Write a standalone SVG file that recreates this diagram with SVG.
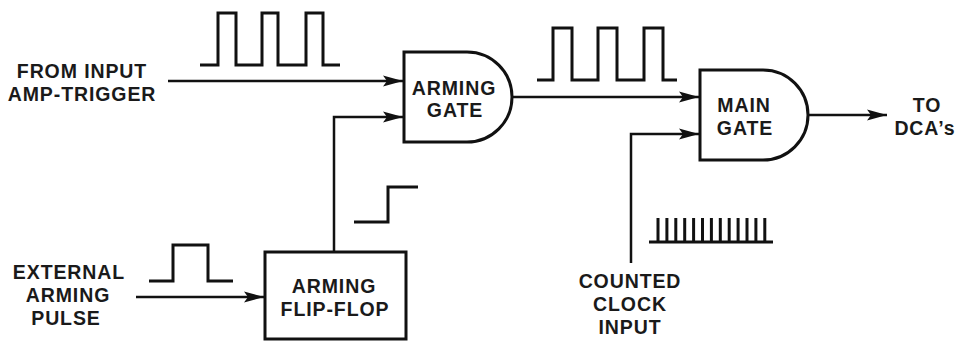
<svg xmlns="http://www.w3.org/2000/svg" width="958" height="342" viewBox="0 0 958 342">
<style>
.t{font-family:"Liberation Sans",Arial,sans-serif;font-weight:bold;font-size:19.5px;letter-spacing:0.9px;fill:#1a1a1a;text-anchor:middle}
.shape{fill:#fff;stroke:#111;stroke-width:3}
.wire{fill:none;stroke:#111;stroke-width:2.5}
.wave{fill:none;stroke:#111;stroke-width:3;stroke-linejoin:miter}
</style>
<defs>
<marker id="arr" viewBox="0 0 20 12" refX="20" refY="6" markerWidth="20" markerHeight="12" markerUnits="userSpaceOnUse" orient="auto">
<path d="M0,0.5 L20,6 L0,11.5 L4,6 Z" fill="#111"/>
</marker>
</defs>
<rect width="958" height="342" fill="#fff"/>
<g id="connectors">
<path class="wire" d="M168,81 H403" marker-end="url(#arr)"/>
<path class="wire" d="M334,251 V117 H403" marker-end="url(#arr)"/>
<path class="wire" d="M512,97 H699" marker-end="url(#arr)"/>
<path class="wire" d="M631,263 V134 H699" marker-end="url(#arr)"/>
<path class="wire" d="M808,115 H887" marker-end="url(#arr)"/>
<path class="wire" d="M136,297 H264" marker-end="url(#arr)"/>
</g>
<g id="waveforms">
<path class="wave" d="M200,65 H218 V13 H236 V65 H262 V13 H278 V65 H306 V13 H323 V65 H340"/>
<path class="wave" d="M537,80 H553 V28 H572 V80 H598 V28 H617 V80 H644 V28 H663 V80 H677"/>
<path class="wave" d="M354,222 H388 V187 H418"/>
<path class="wave" d="M149,281 H173 V245 H208 V281 H233"/>
<path class="wave" d="M649,242 H773 M658,242 V218 M666.9,242 V218 M675.8,242 V218 M684.7,242 V218 M693.6,242 V218 M702.5,242 V218 M711.4,242 V218 M720.3,242 V218 M729.2,242 V218 M738.1,242 V218 M747,242 V218 M755.9,242 V218 M764.8,242 V218"/>
</g>
<g id="input-label">
<text class="t" x="82" y="78">FROM INPUT</text>
<text class="t" x="82" y="101">AMP-TRIGGER</text>
</g>
<g id="arming-gate">
<path class="shape" d="M404,52 H467 A45,45 0 0 1 467,142 H404 Z"/>
<text class="t" x="454" y="95">ARMING</text>
<text class="t" x="455" y="117">GATE</text>
</g>
<g id="main-gate">
<path class="shape" d="M700,70 H763 A45,45 0 0 1 763,160 H700 Z"/>
<text class="t" x="744" y="112">MAIN</text>
<text class="t" x="745" y="135">GATE</text>
</g>
<g id="output-label">
<text class="t" x="927" y="112">TO</text>
<text class="t" x="925" y="135">DCA’s</text>
</g>
<g id="arming-flip-flop">
<rect class="shape" x="265" y="252" width="141" height="87"/>
<text class="t" x="334" y="293">ARMING</text>
<text class="t" x="335" y="316">FLIP-FLOP</text>
</g>
<g id="external-label">
<text class="t" x="69" y="279">EXTERNAL</text>
<text class="t" x="68" y="302">ARMING</text>
<text class="t" x="66" y="325">PULSE</text>
</g>
<g id="clock-label">
<text class="t" x="630" y="288">COUNTED</text>
<text class="t" x="630" y="311">CLOCK</text>
<text class="t" x="630" y="334">INPUT</text>
</g>
</svg>
